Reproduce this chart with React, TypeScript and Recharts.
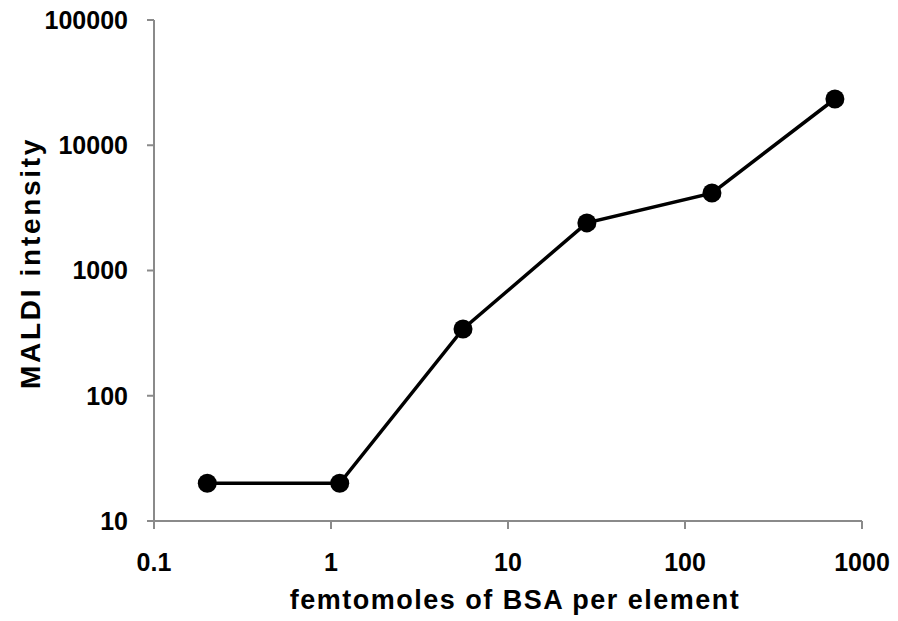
import { LineChart, Line, XAxis, YAxis, Label } from 'recharts';

// femtomoles of BSA per element vs MALDI intensity (log-log)
const femtomoles = [0.2, 1.12, 5.57, 27.9, 142, 703];
const intensity = [20, 20, 341, 2400, 4150, 23400];
const xTicks = [0.1, 1, 10, 100, 1000];
const yTicks = [10, 100, 1000, 10000, 100000];

const data = femtomoles.map((x, i) => ({ x, y: intensity[i] }));

const font = '"Liberation Sans", Arial, sans-serif';
const tickStyle = { fontSize: 25, fontWeight: 700, fill: '#000', fontFamily: font };
const axisGrey = '#8a8a8a';

export default function App() {
    return (
        <div style={{ position: 'absolute', left: 0, top: 0, background: '#fff' }}>
            <LineChart width={898} height={621} data={data} margin={{ top: 20, right: 36, bottom: 0, left: 0 }}>
                <XAxis
                    dataKey="x"
                    type="number"
                    scale="log"
                    domain={[0.1, 1000]}
                    ticks={xTicks}
                    allowDataOverflow
                    height={100}
                    tickSize={8}
                    tickMargin={24}
                    tick={tickStyle}
                    stroke={axisGrey}
                    strokeWidth={2}
                    tickLine={{ stroke: axisGrey, strokeWidth: 2 }}
                    label={{ value: 'femtomoles of BSA per element', position: 'insideBottom', offset: 12, dx: 7, style: { fontSize: 27, letterSpacing: 1.5, fontWeight: 700, fill: '#000', fontFamily: font } }}
                />
                <YAxis
                    dataKey="y"
                    type="number"
                    scale="log"
                    domain={[10, 100000]}
                    ticks={yTicks}
                    allowDataOverflow
                    width={154}
                    tickSize={7}
                    tickMargin={19}
                    tick={tickStyle}
                    stroke={axisGrey}
                    strokeWidth={2}
                    tickLine={{ stroke: axisGrey, strokeWidth: 2 }}
                >
                    <Label
                        content={() => (
                            <text
                                x={30}
                                y={263}
                                transform="rotate(-90 30 263)"
                                textAnchor="middle"
                                dominantBaseline="central"
                                style={{ fontSize: 28, letterSpacing: 2.7, fontWeight: 700, fill: '#000', fontFamily: font }}
                            >
                                MALDI intensity
                            </text>
                        )}
                    />
                </YAxis>
                <Line
                    type="linear"
                    dataKey="y"
                    stroke="#000"
                    strokeWidth={3.5}
                    dot={{ r: 9.5, fill: '#000', stroke: '#000', strokeWidth: 0 }}
                    isAnimationActive={false}
                />
            </LineChart>
        </div>
    );
}
